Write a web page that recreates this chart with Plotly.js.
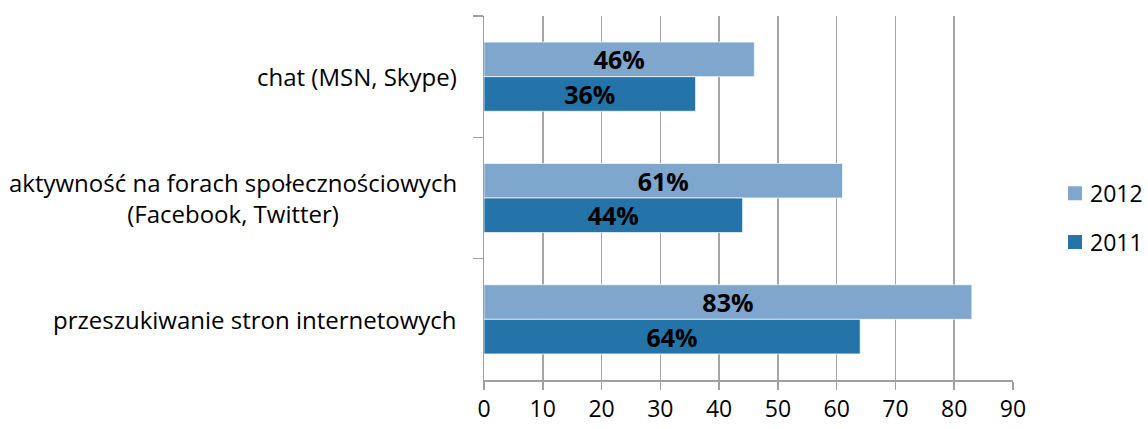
<!DOCTYPE html>
<html>
<head>
<meta charset="utf-8">
<script src="https://cdn.plot.ly/plotly-3.0.1.min.js"></script>
<style>
  html, body { margin: 0; padding: 0; background: #fff; }
  #chart { width: 1148px; height: 429px; }
</style>
</head>
<body>
<div id="chart"></div>
<script>
// Activities, top to bottom
const categories = [
  'chat (MSN, Skype)',
  'aktywność na forach społecznościowych<br>(Facebook, Twitter)',
  'przeszukiwanie stron internetowych'
];
const seriesNames = ['2012', '2011'];
const values2012 = [46, 61, 83];
const values2011 = [36, 44, 64];
const xTicks = [0, 10, 20, 30, 40, 50, 60, 70, 80, 90];

const colors = ['#7fa6cd', '#2574a9'];
const FONT = 'Open Sans, Noto Sans, sans-serif';
const labelFont = { family: FONT, size: 25, color: '#000', weight: 'bold' };
const axisFont = { family: FONT, size: 23, color: '#000' };
const catFont = { family: FONT, size: 24, color: '#000' };

function barTrace(name, values, color) {
  return {
    type: 'bar',
    orientation: 'h',
    name: name,
    y: categories,
    x: values,
    marker: { color: color, line: { color: 'rgba(255,255,255,0.7)', width: 1 } },
    texttemplate: '%{x}%',
    textposition: 'inside',
    insidetextanchor: 'middle',
    constraintext: 'none',
    textangle: 0,
    textfont: labelFont,
    insidetextfont: labelFont,
    hoverinfo: 'none'
  };
}

const data = [
  barTrace(seriesNames[0], values2012, colors[0]),
  barTrace(seriesNames[1], values2011, colors[1])
];

// Category names, centred line by line, to the left of the axis
const categoryLabels = categories.map((c, i) => ({
  xref: 'paper', yref: 'y',
  x: 0, y: i,
  xanchor: 'right', yanchor: 'middle',
  xshift: -25,
  align: 'center',
  text: c,
  showarrow: false,
  font: catFont
}));

// Key on the right: a square swatch and the year for each series
const legendY = [0.513, 0.379];   // paper y of each key row
const legendShapes = seriesNames.map((n, i) => ({
  type: 'rect', xref: 'paper', yref: 'paper',
  x0: (1068 - 484) / 529, x1: (1082 - 484) / 529,
  y0: legendY[i] - 7 / 364, y1: legendY[i] + 7 / 364,
  fillcolor: colors[i], line: { width: 0 }
}));
const legendLabels = seriesNames.map((n, i) => ({
  xref: 'paper', yref: 'paper',
  x: (1088 - 484) / 529, y: legendY[i],
  xanchor: 'left', yanchor: 'middle',
  text: n, showarrow: false,
  font: axisFont
}));

const layout = {
  width: 1148,
  height: 429,
  margin: { l: 484, r: 135, t: 16, b: 49, pad: 0 },
  paper_bgcolor: '#fff',
  plot_bgcolor: '#fff',
  font: axisFont,
  barmode: 'group',
  bargap: 0.43,
  bargroupgap: 0,
  showlegend: false,
  annotations: categoryLabels.concat(legendLabels),
  shapes: legendShapes,
  xaxis: {
    range: [0, 90],
    tickvals: xTicks,
    ticktext: xTicks.map(String),
    showgrid: true,
    gridcolor: '#a6a6a6',
    gridwidth: 1.5,
    zeroline: false,
    showline: true,
    linecolor: '#a0a0a0',
    linewidth: 1.5,
    ticks: 'outside',
    ticklen: 8,
    tickcolor: '#a0a0a0',
    tickwidth: 1.5,
    tickfont: axisFont,
    automargin: false,
    fixedrange: true
  },
  yaxis: {
    type: 'category',
    autorange: 'reversed',
    showgrid: false,
    zeroline: false,
    showline: true,
    linecolor: '#a0a0a0',
    linewidth: 1.5,
    ticks: 'outside',
    tickson: 'boundaries',
    ticklen: 10,
    tickcolor: '#a0a0a0',
    tickwidth: 1.5,
    showticklabels: false,
    automargin: false,
    fixedrange: true
  }
};

Plotly.newPlot('chart', data, layout, { displayModeBar: false, staticPlot: true });
</script>
</body>
</html>
